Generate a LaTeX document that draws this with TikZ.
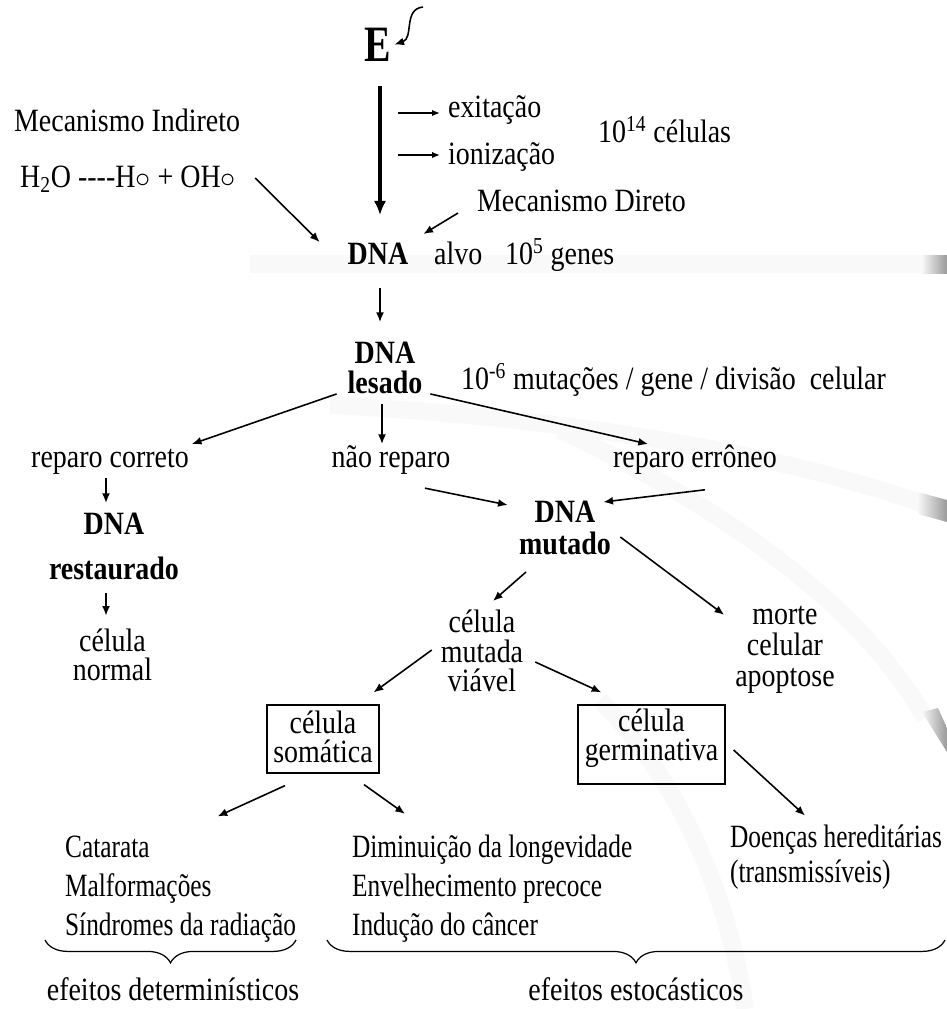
\documentclass[tikz,border=0pt]{standalone}
\usepackage{fontspec}
\setmainfont[FakeStretch=0.86]{Liberation Serif}
\newfontfamily\narrowfont[FakeStretch=0.78]{Liberation Serif}
\usepackage{tikz}
\usetikzlibrary{arrows.meta,decorations.pathreplacing,positioning}
\tikzset{>={Latex[length=5.5pt,width=4.5pt]}}

\begin{document}
\begin{tikzpicture}[x=0.02cm, y=-0.02cm,
    txt/.style={font=\fontsize{18.5}{22}\selectfont, inner sep=1pt,
                text height=13pt, text depth=4.6pt},
    hd/.style={font=\fontsize{18.5}{17}\selectfont\bfseries, inner sep=1pt, align=center},
    stk/.style={font=\fontsize{18.5}{16.8}\selectfont, inner sep=1pt, align=center},
    lst/.style={font=\narrowfont\fontsize{18.5}{22.2}\selectfont, inner sep=1pt, align=left},
    cellbox/.style={stk, draw, line width=0.7pt},
    arr/.style={->, line width=0.9pt},
    tiny/.style={-{Latex[length=4.5pt,width=3.6pt]}, line width=0.8pt},
    fat/.style={-{Latex[length=8pt,width=7pt]}, line width=2.6pt},
    brc/.style={decorate, decoration={brace, mirror, amplitude=13pt}, line width=0.7pt},
    band/.style={black!2.5, line width=10pt}
  ]
\useasboundingbox (0,0) rectangle (947,1009);

% faint bands of the slide background
\draw[band] (250,264) -- (922,264);
\shade[left color=black!3, right color=black!40] (922,255) rectangle (947,273);
\draw[band] (330,405) .. controls (600,420) and (800,460) .. (920,503);
\shade[left color=black!3, right color=black!40] (918,492) -- (947,500) -- (947,522) -- (918,514) -- cycle;
\draw[band] (560,430) .. controls (750,520) and (870,620) .. (925,718);
\shade[left color=black!3, right color=black!40] (922,712) -- (938,708) -- (947,728) -- (947,752) -- cycle;
\draw[band] (600,700) .. controls (680,780) and (730,900) .. (745,1009);

% top: energy and mechanisms
\node[txt, font=\narrowfont\fontsize{29}{32}\selectfont\bfseries] (E) at (378,54.6) {E};
\coordinate (ray) at (423,7);
\node[txt, anchor=west] (exit) at (446,110.6) {exitação};
\node[txt, anchor=west] (ioniz) at (446,157.6) {ionização};
\node[txt, anchor=west] (cel14) at (596,135.6) {10\textsuperscript{14} células};
\node[txt, anchor=west] (indireto) at (12,124.6) {Mecanismo Indireto};
\node[txt, anchor=west] (h2o) at (18,180.6) {H\textsubscript{2}O -{}-{}-{}-H$\circ$ + OH$\circ$};
\node[txt, anchor=west] (direto) at (475,204.6) {Mecanismo Direto};
\node[txt, font=\fontsize{18.5}{22}\selectfont\bfseries] (dna) at (378,257.6) {DNA};
\node[txt, anchor=west] (alvo) at (432,257.6) {alvo\hspace{13pt}10\textsuperscript{5} genes};

% lesion and repair
\node[hd] (lesado) at (385,368) {DNA\\lesado};
\node[txt, anchor=west] (mut) at (459,382.6) {10\textsuperscript{-6} mutações / gene / divisão\ \ celular};
\node[txt] (correto) at (110,460.6) {reparo correto};
\node[txt] (naorep) at (391,460.6) {não reparo};
\node[txt] (erroneo) at (695,460.6) {reparo errôneo};
\node[hd] (restaur) at (114,546.5) {DNA\\[8.6pt]restaurado};
\node[stk] (normal) at (112.5,655) {célula\\normal};
\node[hd] (mutado) at (565,528) {DNA\\[1.2pt]mutado};
\node[stk] (mviavel) at (482,651) {célula\\mutada\\viável};
\node[stk] (morte) at (785,649.5) {morte\\[0.8pt]celular\\[0.8pt]apoptose};

% cells and effects
\node[cellbox, minimum width=63.7pt, minimum height=38.7pt, text depth=2.8pt] (somatica) at (323,739) {célula\\somática};
\node[cellbox, minimum width=83.7pt, minimum height=45pt, text depth=11.4pt] (germ) at (651.5,744.5) {célula\\germinativa};
\node[lst, anchor=west] (detlist) at (63,888.7) {Catarata\\Malformações\\Síndromes da radiação};
\node[lst, anchor=west] (stolist) at (350,888.7) {Diminuição da longevidade\\Envelhecimento precoce\\Indução do câncer};
\node[lst, anchor=west, font=\narrowfont\fontsize{18.5}{20}\selectfont] (hered) at (728,857) {Doenças hereditárias\\(transmissíveis)};
\node[txt] (deter) at (173,993.6) {efeitos determinísticos};
\node[txt] (esto) at (636,993.6) {efeitos estocásticos};

\draw[brc] (45,940) -- (296,940);
\draw[brc] (327,940) -- (945,940);

% connectors
\draw[arr] (ray) .. controls (403,9) and (414,38) .. ([shift={(1,-10)}]E.east);
\draw[fat] ([shift={(2,14)}]E.south) -- ([shift={(2,-25)}]dna.north);
\draw[tiny] ([shift={(-48,2.4)}]exit.west) -- ([shift={(-6,2.4)}]exit.west);
\draw[tiny] ([shift={(-48,-2.6)}]ioniz.west) -- ([shift={(-6,-2.6)}]ioniz.west);
\draw[arr] ([shift={(17,-2.6)}]h2o.east) -- ([shift={(-26,2)}]dna.north west);
\draw[arr] ([shift={(-17,8.4)}]direto.west) -- ([shift={(13,-6)}]dna.north east);
\draw[arr] ([shift={(2,12.6)}]dna.south) -- ([shift={(-5,-18)}]lesado.north);
\draw[arr] ([shift={(-9,-2)}]lesado.south west) -- ([shift={(1,1)}]correto.north east);
\draw[arr] ([shift={(-3,8)}]lesado.south) -- ([shift={(-9,1)}]naorep.north);
\draw[arr] ([shift={(6,-2)}]lesado.south east) -- ([shift={(-47,1)}]erroneo.north);
\draw[arr] ([shift={(-4,0)}]correto.south) -- ([shift={(-8,-8)}]restaur.north);
\draw[arr] ([shift={(-8,11)}]restaur.south) -- ([shift={(-6.5,-11)}]normal.north);
\draw[arr] ([shift={(34,10)}]naorep.south) -- ([shift={(-9.4,6)}]mutado.north west);
\draw[arr] ([shift={(10,11.6)}]erroneo.south) -- ([shift={(-9.6,3)}]mutado.north east);
\draw[arr] ([shift={(7.4,9)}]mutado.east) -- ([shift={(-9,11)}]morte.north west);
\draw[arr] ([shift={(-39,15)}]mutado.south) -- ([shift={(11,-7)}]mviavel.north);
\draw[arr] ([shift={(-7,-1)}]mviavel.west) -- ([shift={(-6,-12)}]somatica.north east);
\draw[arr] ([shift={(10,11)}]mviavel.east) -- ([shift={(24,-12)}]germ.north west);
\draw[arr] ([shift={(-38,12)}]somatica.south) -- ([shift={(37,-17)}]detlist.north);
\draw[arr] ([shift={(41,11)}]somatica.south) -- ([shift={(55,-19)}]stolist.north west);
\draw[arr] ([shift={(8,5.5)}]germ.east) -- ([shift={(77,-7)}]hered.north west);
\end{tikzpicture}
\end{document}
